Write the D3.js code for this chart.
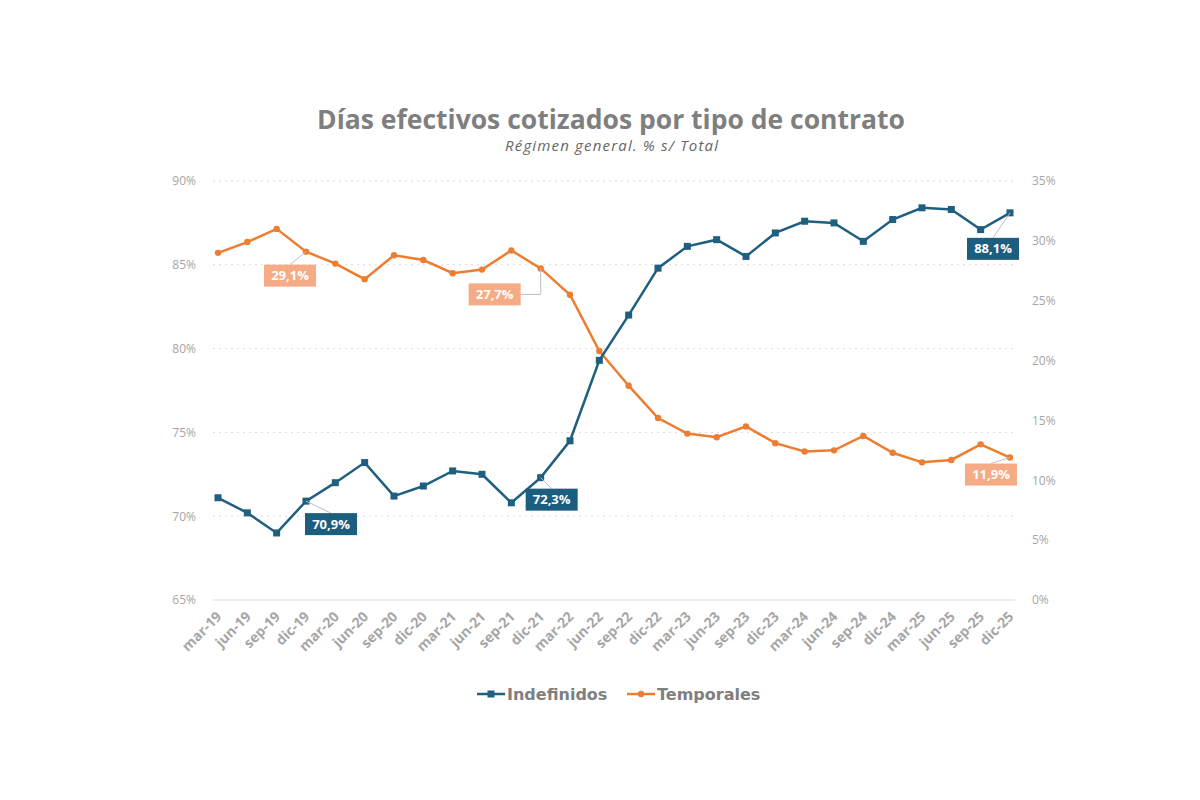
<!DOCTYPE html>
<html>
<head>
<meta charset="utf-8">
<script src="https://cdn.jsdelivr.net/npm/d3@7"></script>
<style>
  body { margin: 0; background: #fff; }
  svg { display: block; }
</style>
</head>
<body>
<div id="chart"></div>
<script>
// Chart data
const periods = ["mar-19","jun-19","sep-19","dic-19","mar-20","jun-20","sep-20","dic-20",
  "mar-21","jun-21","sep-21","dic-21","mar-22","jun-22","sep-22","dic-22",
  "mar-23","jun-23","sep-23","dic-23","mar-24","jun-24","sep-24","dic-24",
  "mar-25","jun-25","sep-25","dic-25"];

const indefinidos = [71.1, 70.2, 69.0, 70.9, 72.0, 73.2, 71.2, 71.8,
  72.7, 72.5, 70.8, 72.3, 74.5, 79.3, 82.0, 84.8,
  86.1, 86.5, 85.5, 86.9, 87.6, 87.5, 86.4, 87.7,
  88.4, 88.3, 87.1, 88.1];

const temporales = [29.0, 29.9, 31.0, 29.1, 28.1, 26.8, 28.8, 28.4,
  27.3, 27.6, 29.2, 27.7, 25.5, 20.8, 17.9, 15.2,
  13.9, 13.6, 14.5, 13.1, 12.4, 12.5, 13.7, 12.3,
  11.5, 11.7, 13.0, 11.9];

const leftTicks = [65, 70, 75, 80, 85, 90];
const rightTicks = [0, 5, 10, 15, 20, 25, 30, 35];

// labelled points: series + period
const labelled = [
  { series: "ind", period: "dic-19" },
  { series: "ind", period: "dic-21" },
  { series: "ind", period: "dic-25" },
  { series: "tmp", period: "dic-19" },
  { series: "tmp", period: "dic-21" },
  { series: "tmp", period: "dic-25" }
];

// label box offsets from the point (layout only)
const labelOffsets = {
  "ind-dic-19": { dx: 25, dy: 23, elbow: false },
  "ind-dic-21": { dx: 11, dy: 22, elbow: false },
  "ind-dic-25": { dx: -17, dy: 36, elbow: false },
  "tmp-dic-19": { dx: -16, dy: 24, elbow: false },
  "tmp-dic-21": { dx: -46, dy: 26, elbow: true },
  "tmp-dic-25": { dx: -19, dy: 17, elbow: false }
};

const width = 1200, height = 800;
const blue = "#1f5f80", orange = "#ed7d31";
const blueBox = "#1c5e7f", orangeBox = "#f4ab86";
const fmt = v => d3.format(".1f")(v).replace(".", ",") + "%";

const svg = d3.select("#chart")
  .append("svg")
  .attr("width", width)
  .attr("height", height)
  .style("font-family", "'Open Sans', sans-serif");

const plot = { left: 213, right: 1015, top: 181, bottom: 600 };

const x = d3.scalePoint()
  .domain(periods)
  .range([218, 1010]);

const yL = d3.scaleLinear().domain([65, 90]).range([plot.bottom, plot.top]);
const yR = d3.scaleLinear().domain([0, 35]).range([plot.bottom, plot.top]);

// Title
svg.append("text")
  .attr("x", 611).attr("y", 129)
  .attr("text-anchor", "middle")
  .attr("font-size", 26.5).attr("font-weight", "bold")
  .attr("fill", "#7f7f7f")
  .text("Días efectivos cotizados por tipo de contrato");

svg.append("text")
  .attr("x", 505).attr("y", 151)
  .attr("font-size", 15).attr("font-style", "italic")
  .attr("textLength", 213).attr("lengthAdjust", "spacing")
  .attr("fill", "#666")
  .text("Régimen general. % s/ Total");

// Gridlines
svg.append("g")
  .selectAll("line")
  .data(leftTicks.filter(d => d > 65))
  .join("line")
  .attr("x1", plot.left).attr("x2", plot.right)
  .attr("y1", d => yL(d)).attr("y2", d => yL(d))
  .attr("stroke", "#d9d9d9")
  .attr("stroke-dasharray", "2,4");

svg.append("line")
  .attr("x1", plot.left).attr("x2", plot.right)
  .attr("y1", plot.bottom).attr("y2", plot.bottom)
  .attr("stroke", "#d9d9d9");

// Left axis
const leftAxis = svg.append("g")
  .attr("transform", `translate(${plot.left - 14},0)`)
  .call(d3.axisLeft(yL).tickValues(leftTicks).tickSize(0).tickFormat(d => d + "%"));
leftAxis.select(".domain").remove();

// Right axis
const rightAxis = svg.append("g")
  .attr("transform", `translate(${plot.right + 14},0)`)
  .call(d3.axisRight(yR).tickValues(rightTicks).tickSize(0).tickFormat(d => d + "%"));
rightAxis.select(".domain").remove();

svg.selectAll(".tick text")
  .attr("font-family", "'Open Sans', sans-serif")
  .attr("font-size", 12)
  .attr("fill", "#a6a6a6");

// X axis labels
svg.append("g")
  .selectAll("text")
  .data(periods)
  .join("text")
  .attr("transform", d => `translate(${x(d) + 1},${plot.bottom + 14}) rotate(-45)`)
  .attr("text-anchor", "end")
  .attr("dy", "0.35em")
  .attr("font-size", 14)
  .attr("font-weight", "bold")
  .attr("fill", "#a6a6a6")
  .text(d => d);

// Lines
const lineInd = d3.line()
  .x((d, i) => x(periods[i]))
  .y(d => yL(d));

const lineTmp = d3.line()
  .x((d, i) => x(periods[i]))
  .y(d => yR(d));

svg.append("path")
  .datum(temporales)
  .attr("fill", "none")
  .attr("stroke", orange)
  .attr("stroke-width", 2.5)
  .attr("d", lineTmp);

svg.append("g")
  .selectAll("circle")
  .data(temporales)
  .join("circle")
  .attr("cx", (d, i) => x(periods[i]))
  .attr("cy", d => yR(d))
  .attr("r", 3.2)
  .attr("fill", orange);

svg.append("path")
  .datum(indefinidos)
  .attr("fill", "none")
  .attr("stroke", blue)
  .attr("stroke-width", 2.5)
  .attr("d", lineInd);

svg.append("g")
  .selectAll("rect")
  .data(indefinidos)
  .join("rect")
  .attr("x", (d, i) => x(periods[i]) - 3.5)
  .attr("y", d => yL(d) - 3.5)
  .attr("width", 7)
  .attr("height", 7)
  .attr("fill", blue);

// Data labels
const boxW = 52, boxH = 22;
const lab = svg.append("g");
labelled.forEach(l => {
  const i = periods.indexOf(l.period);
  const isInd = l.series === "ind";
  const v = isInd ? indefinidos[i] : temporales[i];
  const px = x(l.period);
  const py = isInd ? yL(v) : yR(v);
  const o = labelOffsets[l.series + "-" + l.period];
  const cx = px + o.dx, cy = py + o.dy;

  if (o.elbow) {
    lab.append("path")
      .attr("d", `M${px},${py}V${cy}H${cx + boxW / 2}`)
      .attr("fill", "none")
      .attr("stroke", "#bfbfbf")
      .attr("stroke-width", 1);
  } else {
    lab.append("line")
      .attr("x1", px).attr("y1", py)
      .attr("x2", cx).attr("y2", cy - boxH / 2)
      .attr("stroke", "#bfbfbf")
      .attr("stroke-width", 1);
  }

  lab.append("rect")
    .attr("x", cx - boxW / 2).attr("y", cy - boxH / 2)
    .attr("width", boxW).attr("height", boxH)
    .attr("fill", isInd ? blueBox : orangeBox);

  lab.append("text")
    .attr("x", cx).attr("y", cy)
    .attr("dy", "0.35em")
    .attr("text-anchor", "middle")
    .attr("font-size", 13)
    .attr("font-weight", "bold")
    .attr("fill", "#fff")
    .text(fmt(v));
});

// Legend
const legend = svg.append("g")
  .attr("transform", "translate(477,694)")
  .style("font-family", "'DejaVu Sans', sans-serif");

const legendItems = [
  { name: "Indefinidos", color: blue, shape: "square", x: 0 },
  { name: "Temporales", color: orange, shape: "circle", x: 150 }
];

legendItems.forEach(it => {
  const g = legend.append("g").attr("transform", `translate(${it.x},0)`);
  g.append("line")
    .attr("x1", 0).attr("x2", 28)
    .attr("stroke", it.color).attr("stroke-width", 2.5);
  if (it.shape === "square") {
    g.append("rect").attr("x", 10.5).attr("y", -3.5).attr("width", 7).attr("height", 7).attr("fill", it.color);
  } else {
    g.append("circle").attr("cx", 14).attr("r", 3.2).attr("fill", it.color);
  }
  g.append("text")
    .attr("x", 30).attr("dy", "0.35em")
    .attr("font-size", 16).attr("font-weight", "bold")
    .attr("fill", "#7f7f7f")
    .text(it.name);
});
</script>
</body>
</html>
